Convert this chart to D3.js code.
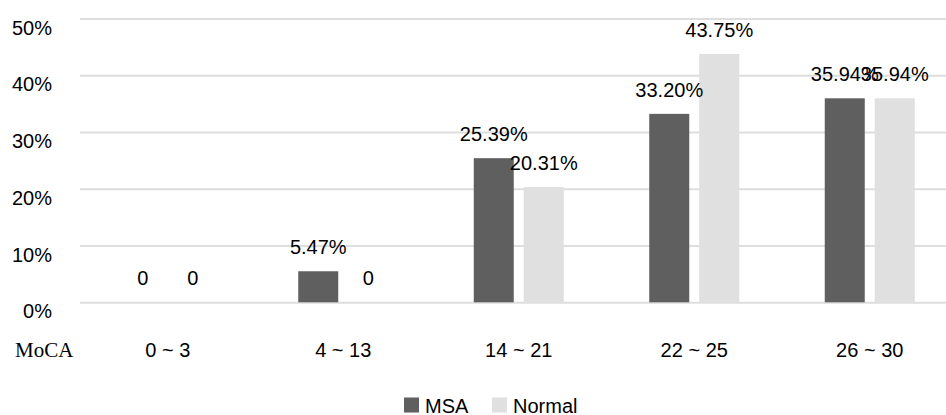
<!DOCTYPE html>
<html>
<head>
<meta charset="utf-8">
<script src="https://cdn.jsdelivr.net/npm/d3@7"></script>
<style>
  html, body { margin: 0; padding: 0; background: #fff; }
  svg { display: block; }
  text { font-family: "Liberation Sans", Arial, sans-serif; fill: #000; }
</style>
</head>
<body>
<svg id="chart" width="946" height="415"></svg>
<script>
// MoCA score ranges and the share of each group in them (percent)
const categories = ["0 ~ 3", "4 ~ 13", "14 ~ 21", "22 ~ 25", "26 ~ 30"];
const seriesNames = ["MSA", "Normal"];
const msaValues = [0, 5.47, 25.39, 33.20, 35.94];
const normalValues = [0, 0, 20.31, 43.75, 35.94];
const yTicks = [0, 10, 20, 30, 40, 50];

const colors = { MSA: "#5f5f5f", Normal: "#dfe0df" };

const svg = d3.select("#chart");
const W = 946;

const x = d3.scaleBand().domain(categories).range([80, 957.5]);
const xInner = d3.scaleBand().domain(seriesNames).range([-45, 45]).paddingInner(0.2);
const y = d3.scaleLinear().domain([0, 50]).range([302.3, 18.5]);

// horizontal gridlines
const yAxis = d3.axisLeft(y).tickValues(yTicks).tickSize(-(W - 80)).tickFormat(d => d + "%");
const gy = svg.append("g").attr("transform", "translate(80,0)").call(yAxis);
gy.select(".domain").remove();
gy.selectAll(".tick line").attr("stroke", "#dedede").attr("stroke-width", 2);
gy.selectAll(".tick text")
  .attr("x", -28).attr("dy", "0.78em")
  .attr("text-anchor", "end")
  .style("font-size", "20px")
  .style("font-family", "'Liberation Sans', Arial, sans-serif");

// category labels
const xAxis = d3.axisBottom(x).tickSize(0);
const gx = svg.append("g").attr("transform", "translate(0,357)").call(xAxis);
gx.select(".domain").remove();
gx.selectAll(".tick text")
  .attr("y", 0).attr("dy", 0)
  .style("font-size", "20px")
  .style("font-family", "'Liberation Sans', Arial, sans-serif");

svg.append("text")
  .attr("x", 15).attr("y", 357)
  .style("font-family", "'Liberation Serif', 'Times New Roman', serif")
  .style("font-size", "21px")
  .text("MoCA");

// bars
const rows = categories.map((c, i) => ({
  cat: c,
  vals: [{ s: "MSA", v: msaValues[i] }, { s: "Normal", v: normalValues[i] }]
}));

const groups = svg.append("g").selectAll("g").data(rows).join("g")
  .attr("transform", d => `translate(${x(d.cat) + x.bandwidth() / 2},0)`);

groups.selectAll("rect").data(d => d.vals).join("rect")
  .attr("x", d => xInner(d.s))
  .attr("width", xInner.bandwidth())
  .attr("y", d => y(d.v))
  .attr("height", d => y(0) - y(d.v))
  .attr("fill", d => colors[d.s]);

groups.selectAll("text.val").data(d => d.vals).join("text")
  .attr("class", "val")
  .attr("x", d => xInner(d.s) + xInner.bandwidth() / 2)
  .attr("y", d => y(d.v) - 17)
  .attr("text-anchor", "middle")
  .style("font-size", "20px")
  .text(d => d.v === 0 ? "0" : d.v.toFixed(2) + "%");

// legend
const legend = svg.append("g");
const legendItems = [{ s: "MSA", x: 404 }, { s: "Normal", x: 492 }];
legendItems.forEach(it => {
  legend.append("rect")
    .attr("x", it.x).attr("y", 397.5)
    .attr("width", 15).attr("height", 15)
    .attr("fill", colors[it.s]);
  legend.append("text")
    .attr("x", it.x + 21).attr("y", 412.5)
    .style("font-size", "20px")
    .text(it.s);
});
</script>
</body>
</html>
